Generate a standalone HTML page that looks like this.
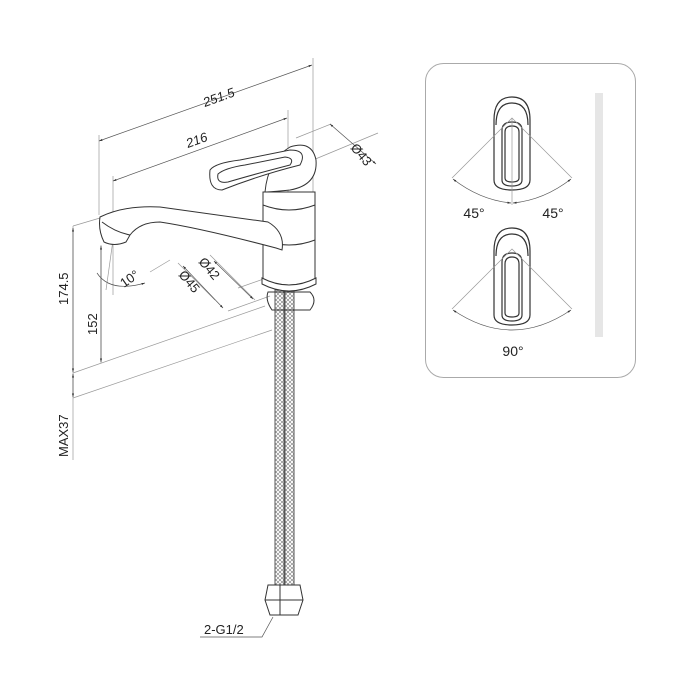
<!DOCTYPE html>
<html><head><meta charset="utf-8"><style>
html,body{margin:0;padding:0;background:#fff;}
svg{display:block}
text{font-family:"Liberation Sans",sans-serif;fill:#222}
</style></head><body>
<svg width="700" height="700" viewBox="0 0 700 700" xmlns="http://www.w3.org/2000/svg">
<defs>
<marker id="a" viewBox="0 0 10 10" refX="10" refY="5" markerWidth="5" markerHeight="5" orient="auto-start-reverse"><path d="M0,2 L10,5 L0,8z" fill="#333"/></marker>
<pattern id="br" width="4" height="4" patternUnits="userSpaceOnUse"><path d="M0,0 L4,4 M4,0 L0,4" stroke="#777" stroke-width="0.6"/></pattern>
</defs>
<g stroke="#999" stroke-width="0.7" fill="none">
<line x1="99" y1="135" x2="99" y2="215"/>
<line x1="313" y1="58" x2="313" y2="285"/>
<line x1="113" y1="176" x2="113" y2="295"/>
<line x1="288" y1="110" x2="288" y2="210"/>
<line x1="296" y1="138" x2="331" y2="124"/>
<line x1="313" y1="160" x2="378" y2="133"/>
<line x1="73" y1="226" x2="100" y2="218"/>
<line x1="73" y1="373" x2="265" y2="306"/>
<line x1="73" y1="398" x2="272" y2="330"/>
<line x1="73" y1="226" x2="73" y2="460"/>
<line x1="101" y1="245" x2="101" y2="363"/>
<line x1="150" y1="272" x2="170" y2="260"/>
<line x1="178" y1="263" x2="215" y2="300"/>
<line x1="210" y1="255" x2="255" y2="300"/>
<line x1="238" y1="288" x2="275" y2="275"/>
<line x1="228" y1="311" x2="270" y2="296"/>
<line x1="113" y1="240" x2="106" y2="290"/>
</g>
<g stroke="#555" stroke-width="0.7" fill="none">
<line x1="99" y1="141" x2="312" y2="65" marker-start="url(#a)" marker-end="url(#a)"/>
<line x1="113" y1="181" x2="287" y2="118" marker-start="url(#a)" marker-end="url(#a)"/>
<line x1="330" y1="124" x2="376" y2="164" marker-start="url(#a)" marker-end="url(#a)"/>
<line x1="73" y1="228" x2="73" y2="372" marker-start="url(#a)" marker-end="url(#a)"/>
<line x1="73" y1="374" x2="73" y2="397" marker-start="url(#a)" marker-end="url(#a)"/>
<line x1="101" y1="246" x2="101" y2="362" marker-start="url(#a)" marker-end="url(#a)"/>
<line x1="214" y1="261" x2="253" y2="299" marker-start="url(#a)" marker-end="url(#a)"/>
<line x1="183" y1="266" x2="223" y2="308" marker-start="url(#a)" marker-end="url(#a)"/>
<path d="M97,273 Q110,293 145,283" marker-end="url(#a)"/>
<path d="M200,637 L262,637 L273,617" />
</g>
<g font-size="13">
<text x="205" y="107" transform="rotate(-20 205 107)" font-style="italic">251.5</text>
<text x="188" y="148" transform="rotate(-20 188 148)" font-style="italic">216</text>
<text x="350" y="148" transform="rotate(50 350 148)">Ø43</text>
<text x="68" y="305" transform="rotate(-90 68 305)">174.5</text>
<text x="97" y="335" transform="rotate(-90 97 335)">152</text>
<text x="68" y="457" transform="rotate(-90 68 457)">MAX37</text>
<text x="124" y="288" transform="rotate(-35 124 288)">10°</text>
<text x="198" y="262" transform="rotate(50 198 262)">Ø42</text>
<text x="178" y="275" transform="rotate(50 178 275)">Ø45</text>
<text x="204" y="634">2-G1/2</text>
</g>
<g stroke="#333" stroke-width="1" fill="#fff">
<rect x="275" y="290" width="9" height="295" fill="url(#br)" stroke="#555"/>
<rect x="285" y="290" width="9" height="295" fill="url(#br)" stroke="#555"/>
<path d="M268,292 L310,292 Q318,300 310,310 L272,310 Q265,300 268,292z" fill="none"/>
<path d="M263,192 L263,280 Q289,290 315,280 L315,192z"/>
<path d="M263,240 Q289,250 315,240" fill="none"/>
<path d="M263,205 Q289,215 315,205" fill="none"/>
<path d="M262,278 Q289,292 316,278 L316,284 Q289,298 262,284z"/>
<path d="M100,217 Q125,205 160,207 L268,222 Q285,232 282,250 L276,248 Q200,228 160,222 Q140,222 130,235 L126,242 Q114,247 104,242 Q98,230 100,217z"/>
<path d="M102,222 Q115,232 130,235" fill="none"/>
<path d="M265,192 Q268,160 290,147 Q312,140 316,160 Q318,185 290,190 Q270,192 265,192z"/>
<path d="M210,170 Q215,163 240,160 L290,150 Q308,150 300,165 Q260,175 222,190 Q208,190 210,170z"/>
<path d="M218,174 Q225,168 245,165 L285,157 Q295,158 290,165 Q255,174 228,182 Q216,184 218,174z" fill="none"/>
<path d="M268,585 L300,585 L303,600 L298,615 L270,615 L265,600z"/>
<line x1="265" y1="600" x2="303" y2="600"/>
<line x1="280" y1="585" x2="280" y2="615"/>
</g>
<rect x="425.5" y="63.5" width="210" height="314" rx="18" fill="#fff" stroke="#aaa" stroke-width="1"/>
<rect x="595" y="93" width="8" height="244" fill="#e6e6e6"/>
<g stroke="#333" stroke-width="1.2" fill="none">
<path d="M494,120 Q494,97 512,97 Q530,97 530,120 L530,180 Q530,190 512,190 Q494,190 494,180z"/>
<path d="M496,125 Q496,103 512,103 Q528,103 528,125"/>
<path d="M502,130 Q502,122 512,122 Q522,122 522,130 L522,180 Q522,186 512,186 Q502,186 502,180z"/>
<path d="M505,132 Q505,126 512,126 Q519,126 519,132 L519,178 Q519,182 512,182 Q505,182 505,178z"/>
<path d="M494,251 Q494,228 512,228 Q530,228 530,251 L530,315 Q530,325 512,325 Q494,325 494,315z"/>
<path d="M496,256 Q496,234 512,234 Q528,234 528,256"/>
<path d="M502,262 Q502,253 512,253 Q522,253 522,262 L522,315 Q522,321 512,321 Q502,321 502,315z"/>
<path d="M505,264 Q505,257 512,257 Q519,257 519,264 L519,313 Q519,317 512,317 Q505,317 505,313z"/>
</g>
<g stroke="#999" stroke-width="0.7" fill="none">
<path d="M452,178 L512,118 L572,178"/>
<line x1="512" y1="118" x2="512" y2="205"/>
<path d="M453,179 Q480,200 511,203" marker-start="url(#a)" marker-end="url(#a)" stroke="#555"/>
<path d="M571,179 Q544,200 513,203" marker-start="url(#a)" marker-end="url(#a)" stroke="#555"/>
<path d="M452,309 L512,249 L572,309"/>
<path d="M453,310 Q512,350 571,310" marker-start="url(#a)" marker-end="url(#a)" stroke="#555"/>
</g>
<g font-size="14" text-anchor="middle">
<text x="474" y="218">45°</text>
<text x="553" y="218">45°</text>
<text x="513" y="356">90°</text>
</g>
</svg>
</body></html>
